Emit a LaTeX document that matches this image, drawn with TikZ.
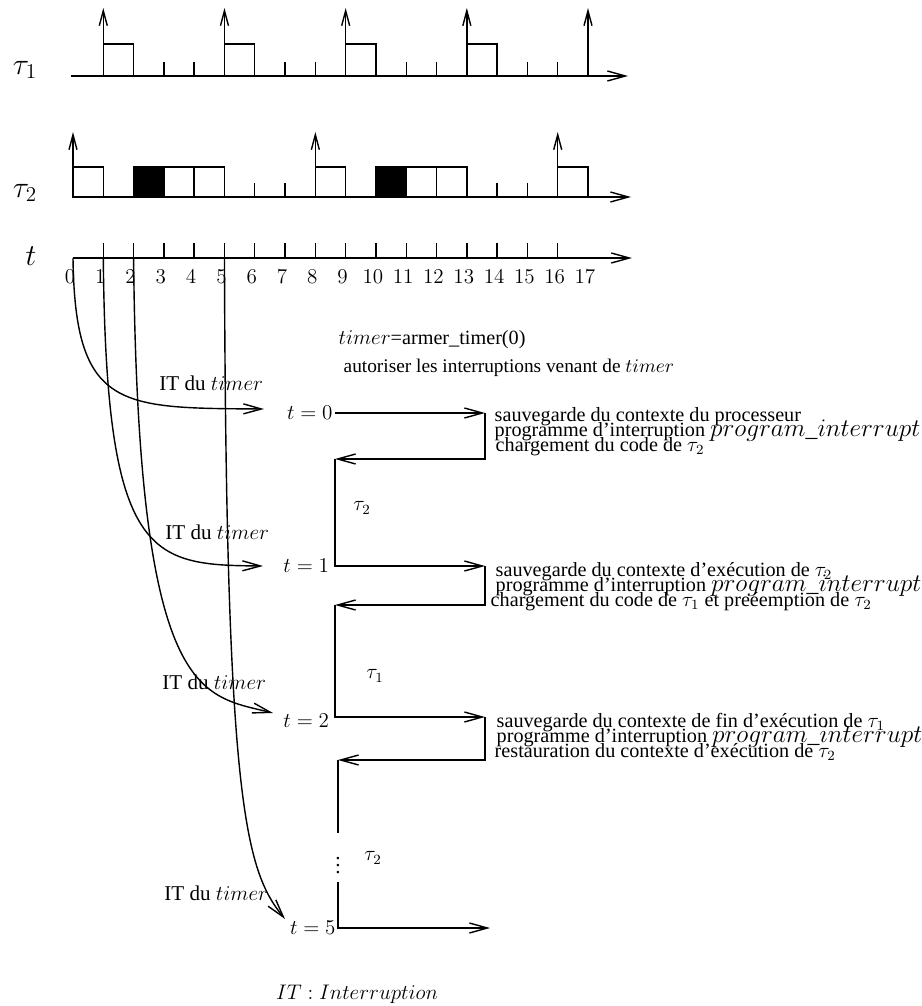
\documentclass[tikz,border=0pt]{standalone}
\usepackage{fontspec}
\setmainfont{Liberation Serif}
\usetikzlibrary{arrows.meta,positioning}
\newcommand\progint{{\fontsize{13.5}{15}\selectfont$program\_interrupt$}}

\begin{document}
\begin{tikzpicture}[x=0.02cm, y=-0.02cm, line width=0.8pt,
    axe/.style={-{Straight Barb[length=3.6mm,width=2mm]}},
    rel/.style={-{Straight Barb[length=3mm,width=1.6mm]}},
    flow/.style={-{Straight Barb[length=3.6mm,width=2mm]}},
    busy/.style={draw, fill=black},
    big/.style={font=\fontsize{12}{14}\selectfont, inner sep=1pt},
    row/.style={font=\fontsize{18}{20}\selectfont, inner sep=1pt},
    num/.style={font=\fontsize{12}{14}\selectfont, inner sep=0pt},
    txt/.style={font=\fontsize{11.5}{13}\selectfont, anchor=base west, inner sep=0pt},
  ]
  \useasboundingbox (0,0) rectangle (921,1006);

  % row labels
  \node[row] (tau1) at (25,70) {$\tau_1$};
  \node[row] (tau2) at (25,193) {$\tau_2$};
  \node[row, font=\fontsize{16}{18}\selectfont] (tlab) at (31,256) {$t$};

  % time lines, one unit of time = 30.3px
  \begin{scope}[shift={(73,0)}, x=0.606cm]
    % tau1
    \draw[axe] (-0.07,76) -- (18.32,76);
    \foreach \k in {1,5,9,13,17} \draw[rel] (\k,76) -- (\k,8);
    \foreach \k in {1,5,9,13} \draw (\k,76) rectangle (\k+1,44);
    \foreach \k in {3,4,7,8,11,12,15,16} \draw (\k,76) -- (\k,62);
    % tau2
    \draw[axe] (-0.03,197) -- (18.42,197);
    \foreach \k in {0,8,16} \draw[rel] (\k,197) -- (\k,132);
    \foreach \k in {0,3,4,8,11,12,16} \draw (\k,197) rectangle (\k+1,167);
    \foreach \k in {2,10} \draw[busy] (\k,197) rectangle (\k+1,167);
    \foreach \k in {6,7,14,15} \draw (\k,197) -- (\k,183);
    % t
    \draw[axe] (0,258) -- (18.45,258);
    \foreach \k in {1,...,16} \draw (\k,258) -- (\k,243);
    \foreach \k in {0,...,17} \node[num] (n\k) at (\k-0.1,277) {$\k$};
    \foreach \k in {0,1,2,5} \coordinate (c\k) at (\k,258);
  \end{scope}

  % initialisation
  \node[txt] (arm) at (338,345) {$timer$=armer\_timer(0)};
  \node[txt, font=\fontsize{11}{13}\selectfont] (aut) at (343,373) {autoriser les interruptions venant de $timer$};

  % corners of the execution path
  \coordinate (k0) at (335,413);
  \coordinate (r0) at (485,413);
  \coordinate (l0) at (335,459);
  \coordinate (k1) at (335,566);
  \coordinate (r1) at (485,566);
  \coordinate (l1) at (335,605);
  \coordinate (k2) at (335,717);
  \coordinate (r2) at (485,717);
  \coordinate (l2) at (338,760);
  \coordinate (g1) at (338,833);
  \coordinate (g2) at (338,882);
  \coordinate (k5) at (338,928);
  \coordinate (r5) at (490,928);

  \node[big, left=0pt of k0] (t0) {$t=0$};
  \node[big, left=2pt of k1] (t1) {$t=1$};
  \node[big, left=2pt of k2, yshift=-2pt] (t2) {$t=2$};
  \node[big, left=0pt of k5] (t5) {$t=5$};

  \draw[flow] (k0) -- (r0);
  \draw[flow] (r0) -- (r0 |- l0) -- (l0);
  \draw[flow] (l0) -- (k1) -- (r1);
  \draw[flow] (r1) -- (r1 |- l1) -- (l1);
  \draw[flow] (l1) -- (k2) -- (r2);
  \draw[flow] (r2) -- (r2 |- l2) -- (l2);
  \draw (l2) -- (g1);
  \node[big] (dots) at (338,860) {$\vdots$};
  \draw[flow] (g2) -- (k5) -- (r5);

  % running task
  \node[big] (run0) at (362,508) {$\tau_2$};
  \node[big] (run1) at (375,676) {$\tau_1$};
  \node[big] (run2) at (373,858) {$\tau_2$};

  % timer interrupts
  \coordinate (a0) at (264,409);
  \coordinate (a1) at (263,566);
  \coordinate (a2) at (273,713);
  \coordinate (a5) at (285,919);
  \draw[flow] (c0) .. controls (75,410) and (120,408) .. (a0);
  \draw[flow] (c1) .. controls (106,560) and (150,565) .. (a1);
  \draw[flow] (c2) .. controls (138,700) and (200,695) .. (a2);
  \draw[flow] (c5) .. controls (226,800) and (245,870) .. (a5);
  \node[big, anchor=west] (it0) at (157,383) {IT du $timer$};
  \node[big, anchor=west] (it1) at (163,532) {IT du $timer$};
  \node[big, anchor=west] (it2) at (160,682) {IT du $timer$};
  \node[big, anchor=west] (it5) at (162,893) {IT du $timer$};

  % interrupt handling
  \node[txt] (s0a) at (494,421) {sauvegarde du contexte du processeur};
  \node[txt] (s0b) at (494,436.3) {programme d'interruption \progint};
  \node[txt] (s0c) at (495,451.6) {chargement du code de $\tau_2$};
  \node[txt] (s1a) at (495,576) {sauvegarde du contexte d'exécution de $\tau_2$};
  \node[txt] (s1b) at (495,591.3) {programme d'interruption \progint};
  \node[txt] (s1c) at (490,606.6) {chargement du code de $\tau_1$ et preéemption de $\tau_2$};
  \node[txt] (s2a) at (496,727) {sauvegarde du contexte de fin d'exécution de $\tau_1$};
  \node[txt] (s2b) at (496,742.3) {programme d'interruption \progint};
  \node[txt] (s2c) at (494,757.6) {restauration du contexte d'exécution de $\tau_2$};

  \node[big, font=\fontsize{12.5}{14}\selectfont] (legend) at (357,994) {$IT: Interruption$};
\end{tikzpicture}
\end{document}
